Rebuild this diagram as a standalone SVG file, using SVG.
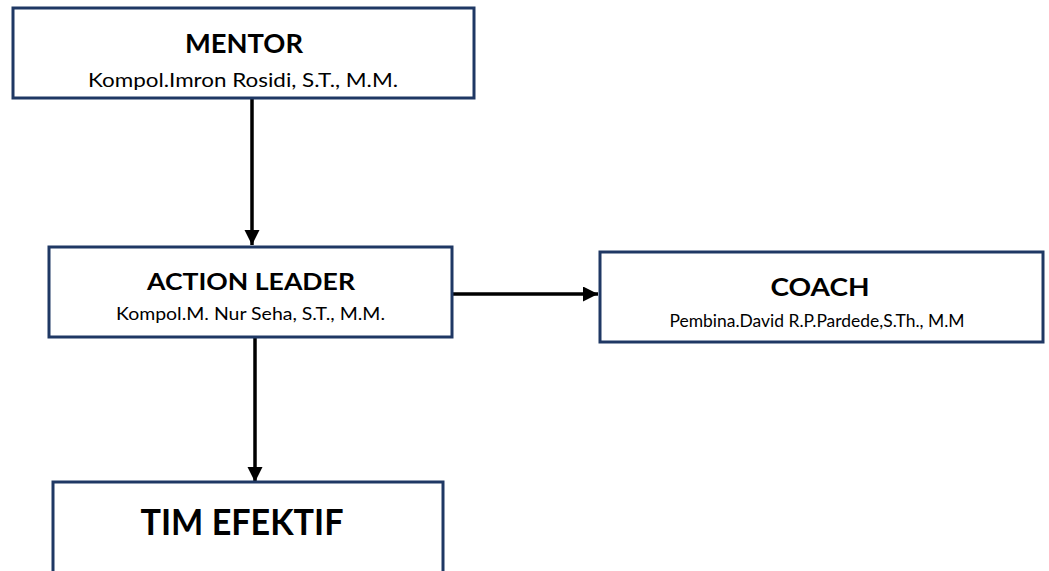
<svg xmlns="http://www.w3.org/2000/svg" width="1049" height="571" viewBox="0 0 1049 571">
  <style>
    .box { fill: #ffffff; stroke: #1f3864; stroke-width: 3; }
    .title { font-family: Lato, "Open Sans", "Liberation Sans", sans-serif; font-weight: bold; fill: #000000; text-anchor: middle; }
    .sub { font-family: Lato, "Open Sans", "Liberation Sans", sans-serif; fill: #000000; text-anchor: middle; }
    .conn { stroke: #000000; stroke-width: 3.5; fill: none; marker-end: url(#arrow); }
  </style>
  <defs>
    <marker id="arrow" markerUnits="userSpaceOnUse" markerWidth="16" markerHeight="16" refX="15" refY="7.5" orient="auto">
      <path d="M0,0 L15,7.5 L0,15 Z" fill="#000000"/>
    </marker>
  </defs>
  <rect width="1049" height="571" fill="#ffffff"/>
  <g id="connectors">
    <line class="conn" x1="252" y1="98" x2="252" y2="245"/>
    <line class="conn" x1="452" y1="294" x2="598" y2="294"/>
    <line class="conn" x1="255" y1="337" x2="255" y2="482"/>
  </g>
  <g id="mentor">
    <rect class="box" x="13" y="8" width="461" height="90"/>
    <text class="title" x="244" y="53" font-size="26" textLength="118" lengthAdjust="spacingAndGlyphs">MENTOR</text>
    <text class="sub" x="243" y="87" font-size="20" textLength="310" lengthAdjust="spacingAndGlyphs">Kompol.Imron Rosidi, S.T., M.M.</text>
  </g>
  <g id="action-leader">
    <rect class="box" x="49" y="247" width="403" height="90"/>
    <text class="title" x="251" y="290" font-size="23" textLength="208" lengthAdjust="spacingAndGlyphs">ACTION LEADER</text>
    <text class="sub" x="250.5" y="320" font-size="17" textLength="269" lengthAdjust="spacingAndGlyphs">Kompol.M. Nur Seha, S.T., M.M.</text>
  </g>
  <g id="coach">
    <rect class="box" x="600" y="252" width="443" height="90"/>
    <text class="title" x="820" y="296" font-size="24" textLength="99" lengthAdjust="spacingAndGlyphs">COACH</text>
    <text class="sub" x="817" y="327" font-size="17" textLength="295" lengthAdjust="spacingAndGlyphs">Pembina.David R.P.Pardede,S.Th., M.M</text>
  </g>
  <g id="tim-efektif">
    <rect class="box" x="53" y="482" width="390" height="120"/>
    <text class="title" x="242" y="535" font-size="36" textLength="203" lengthAdjust="spacingAndGlyphs">TIM EFEKTIF</text>
  </g>
</svg>
